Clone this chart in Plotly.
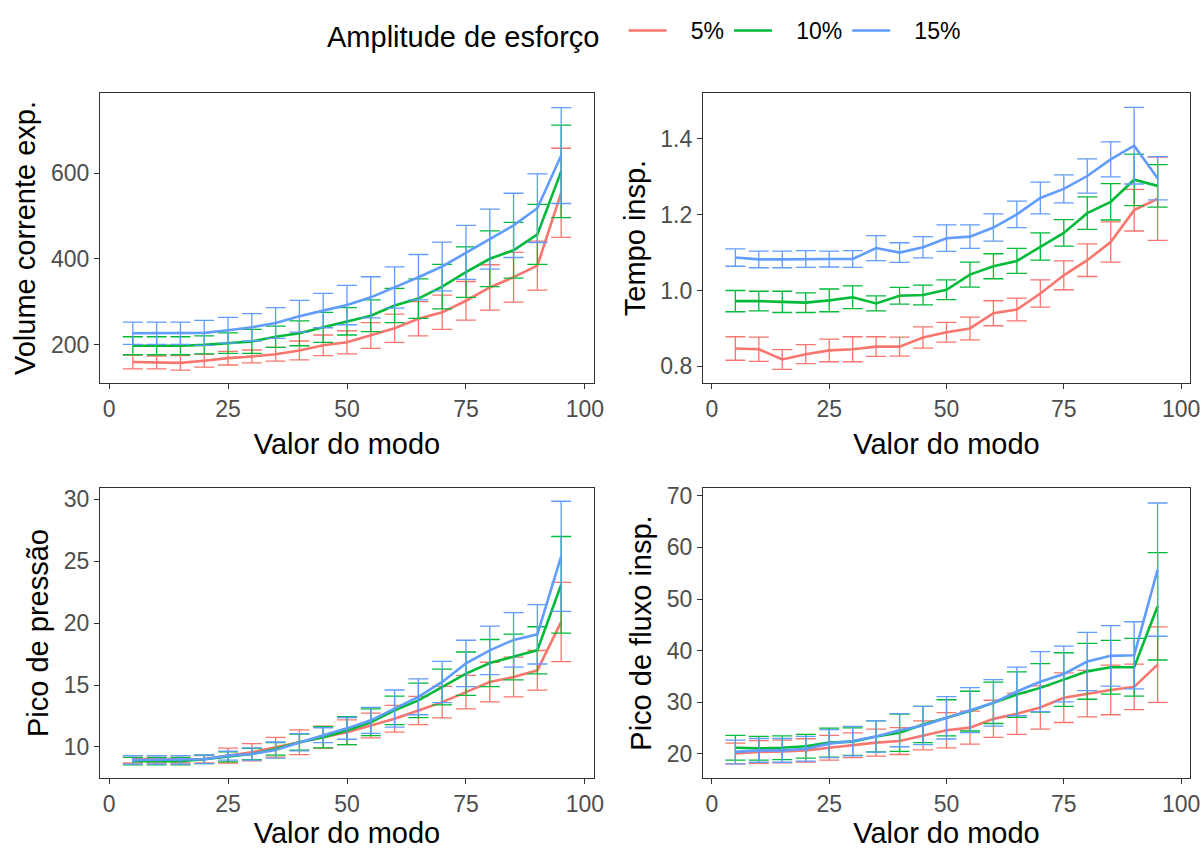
import plotly.graph_objects as go

# ---------------- data ----------------
modo = [5, 10, 15, 20, 25, 30, 35, 40, 45, 50, 55, 60, 65, 70, 75, 80, 85, 90, 95]
grupos = ["5%", "10%", "15%"]
cores = ["#F8766D", "#00BA38", "#619CFF"]

vol_5 = [159, 158, 157, 162, 168, 172, 177, 186, 198, 205, 221, 238, 260, 275, 302, 333, 357, 384, 554]
vol_5_sd = [16, 15, 17, 15, 16, 15, 16, 22, 24, 27, 30, 33, 40, 40, 45, 53, 58, 57, 104]
vol_10 = [197, 197, 197, 199, 203, 207, 218, 226, 240, 254, 267, 291, 307, 335, 369, 400, 420, 457, 604]
vol_10_sd = [21, 21, 21, 21, 24, 28, 25, 29, 35, 32, 37, 40, 46, 52, 59, 65, 65, 70, 108]
vol_15 = [226, 226, 226, 227, 233, 240, 250, 266, 279, 292, 310, 333, 357, 382, 415, 446, 478, 518, 641]
vol_15_sd = [26, 26, 26, 29, 30, 32, 36, 37, 40, 46, 48, 48, 53, 57, 63, 70, 75, 80, 112]

tin_5 = [0.847, 0.845, 0.818, 0.832, 0.842, 0.845, 0.852, 0.852, 0.876, 0.890, 0.900, 0.940, 0.950, 0.992, 1.040, 1.080, 1.128, 1.212, 1.242]
tin_5_sd = [0.031, 0.032, 0.026, 0.025, 0.030, 0.033, 0.026, 0.025, 0.028, 0.026, 0.030, 0.033, 0.030, 0.036, 0.038, 0.043, 0.053, 0.055, 0.110]
tin_10 = [0.972, 0.972, 0.970, 0.968, 0.974, 0.982, 0.966, 0.986, 0.988, 1.002, 1.042, 1.064, 1.078, 1.116, 1.152, 1.204, 1.234, 1.292, 1.276]
tin_10_sd = [0.028, 0.026, 0.028, 0.026, 0.030, 0.030, 0.020, 0.022, 0.026, 0.026, 0.033, 0.033, 0.033, 0.036, 0.035, 0.043, 0.048, 0.068, 0.056]
tin_15 = [1.087, 1.082, 1.082, 1.083, 1.083, 1.083, 1.112, 1.100, 1.114, 1.138, 1.142, 1.166, 1.201, 1.244, 1.268, 1.302, 1.346, 1.382, 1.296]
tin_15_sd = [0.023, 0.022, 0.022, 0.022, 0.021, 0.022, 0.033, 0.026, 0.028, 0.035, 0.031, 0.036, 0.035, 0.042, 0.037, 0.045, 0.046, 0.101, 0.057]

pre_5 = [9.0, 9.0, 9.0, 9.0, 9.3, 9.57, 9.97, 10.38, 10.78, 11.19, 11.73, 12.27, 12.95, 13.62, 14.43, 15.24, 15.65, 16.19, 20.1]
pre_5_sd = [0.3, 0.3, 0.3, 0.3, 0.6, 0.7, 0.8, 1.0, 0.9, 1.0, 1.0, 1.08, 1.14, 1.27, 1.35, 1.6, 1.6, 1.6, 3.2]
pre_10 = [8.85, 8.85, 8.85, 9.0, 9.2, 9.43, 9.84, 10.38, 10.78, 11.32, 12.0, 12.95, 13.76, 14.84, 15.92, 16.78, 17.27, 17.81, 23.1]
pre_10_sd = [0.3, 0.3, 0.3, 0.35, 0.4, 0.45, 0.5, 0.65, 0.85, 1.13, 1.08, 1.15, 1.4, 1.45, 1.75, 1.9, 1.85, 1.9, 3.9]
pre_15 = [8.95, 8.95, 8.95, 9.0, 9.3, 9.43, 9.75, 10.38, 10.95, 11.5, 12.15, 13.1, 14.05, 15.25, 16.75, 17.8, 18.65, 19.1, 25.4]
pre_15_sd = [0.34, 0.34, 0.34, 0.35, 0.36, 0.5, 0.65, 0.7, 0.6, 0.88, 1.05, 1.5, 1.45, 1.67, 1.87, 1.96, 2.2, 2.4, 4.45]

flu_5 = [20.1, 20.4, 20.5, 20.7, 21.2, 21.7, 22.2, 22.5, 23.6, 24.6, 25.1, 26.8, 27.8, 29.0, 30.9, 31.7, 32.4, 33.0, 37.3]
flu_5_sd = [2.0, 2.2, 2.2, 2.25, 2.4, 2.4, 2.6, 2.6, 2.8, 3.4, 3.2, 3.6, 4.0, 4.2, 4.8, 4.5, 4.8, 4.4, 7.3]
flu_10 = [21.2, 21.1, 21.2, 21.5, 22.2, 22.4, 23.4, 24.1, 25.7, 27.0, 28.3, 29.9, 31.5, 32.8, 34.4, 36.0, 36.8, 36.8, 48.6]
flu_10_sd = [2.4, 2.3, 2.3, 2.3, 2.8, 2.65, 3.0, 3.6, 3.5, 3.5, 3.85, 4.0, 4.4, 4.7, 5.2, 5.4, 5.2, 5.6, 10.4]
flu_15 = [20.4, 20.7, 20.7, 21.0, 22.0, 22.5, 23.4, 24.6, 25.5, 27.0, 28.5, 29.9, 32.1, 34.0, 35.5, 37.9, 39.0, 39.1, 55.7]
flu_15_sd = [2.3, 2.3, 2.3, 2.4, 2.7, 2.85, 3.05, 3.2, 3.7, 4.1, 4.35, 4.5, 4.7, 5.8, 5.4, 5.65, 5.85, 6.5, 12.9]

paineis = [
    ("Volume corrente exp.", [vol_5, vol_10, vol_15], [vol_5_sd, vol_10_sd, vol_15_sd], [110, 787], [200, 400, 600], None),
    ("Tempo insp.", [tin_5, tin_10, tin_15], [tin_5_sd, tin_10_sd, tin_15_sd], [0.756, 1.521], [0.8, 1.0, 1.2, 1.4], ".1f"),
    ("Pico de pressão", [pre_5, pre_10, pre_15], [pre_5_sd, pre_10_sd, pre_15_sd], [7.49, 30.92], [10, 15, 20, 25, 30], None),
    ("Pico de fluxo insp.", [flu_5, flu_10, flu_15], [flu_5_sd, flu_10_sd, flu_15_sd], [15.35, 71.5], [20, 30, 40, 50, 60, 70], None),
]
x_titulo = "Valor do modo"
x_ticks = [0, 25, 50, 75, 100]
legenda_titulo = "Amplitude de esforço"

# ---------------- layout geometry ----------------
W, H = 1204, 850
ML, MR, MT, MB = 45, 10, 5, 45
PW, PH = W - ML - MR, H - MT - MB


def xd(a, b):
    return [(a - ML) / PW, (b - ML) / PW]


def yd(top, bot):
    return [(H - MB - bot) / PH, (H - MB - top) / PH]


dom_x = [xd(100, 594), xd(703, 1190), xd(100, 594), xd(703, 1190)]
dom_y = [yd(93, 383), yd(93, 383), yd(488, 778), yd(488, 778)]
x_standoff = [12, 12, 6, 6]

FONT = "Liberation Sans, Arial, sans-serif"
NBSP = "\u00a0"
fig = go.Figure()

for i, (ytit, series, sds, yr, yt, yfmt) in enumerate(paineis):
    ax = "" if i == 0 else str(i + 1)
    for g, nome in enumerate(grupos):
        fig.add_trace(go.Scatter(
            x=modo, y=series[g], mode="lines", name=NBSP * 3 + nome,
            legendgroup=nome, showlegend=(i == 0),
            line=dict(color=cores[g], width=2.6),
            error_y=dict(type="data", array=sds[g], visible=True,
                         color=cores[g], thickness=1.3, width=10),
            xaxis="x" + ax, yaxis="y" + ax,
            hoverinfo="x+y+name",
        ))
    axis_common = dict(
        showgrid=False, zeroline=False, showline=True, mirror=True,
        linecolor="#333333", linewidth=1.2, ticks="outside", ticklen=5,
        tickcolor="#333333", tickwidth=1.1, automargin=False,
        tickfont=dict(family=FONT, size=23, color="#4D4D4D"),
    )
    fig.update_layout(**{
        "xaxis" + ax: dict(
            axis_common, domain=dom_x[i], range=[-1.9, 101.9], tickvals=x_ticks,
            anchor="y" + ax,
            title=dict(text=x_titulo, font=dict(family=FONT, size=29, color="black"),
                       standoff=x_standoff[i]),
        ),
        "yaxis" + ax: dict(
            axis_common, domain=dom_y[i], range=yr, tickvals=yt, tickformat=yfmt,
            anchor="x" + ax,
            title=dict(text=ytit, font=dict(family=FONT, size=29, color="black"), standoff=6),
        ),
    })

fig.update_layout(
    width=W, height=H,
    margin=dict(l=ML, r=MR, t=MT, b=MB),
    paper_bgcolor="white", plot_bgcolor="white",
    font=dict(family=FONT, color="black"),
    legend=dict(
        orientation="h", x=(325 - ML) / PW, xanchor="left",
        y=1 - 4 / PH, yanchor="top",
        title=dict(text=legenda_titulo + "  ", font=dict(family=FONT, size=29, color="black"), side="left"),
        font=dict(family=FONT, size=23, color="black"),
        itemwidth=38, bgcolor="rgba(0,0,0,0)",
    ),
)

fig.write_html("out.html")
